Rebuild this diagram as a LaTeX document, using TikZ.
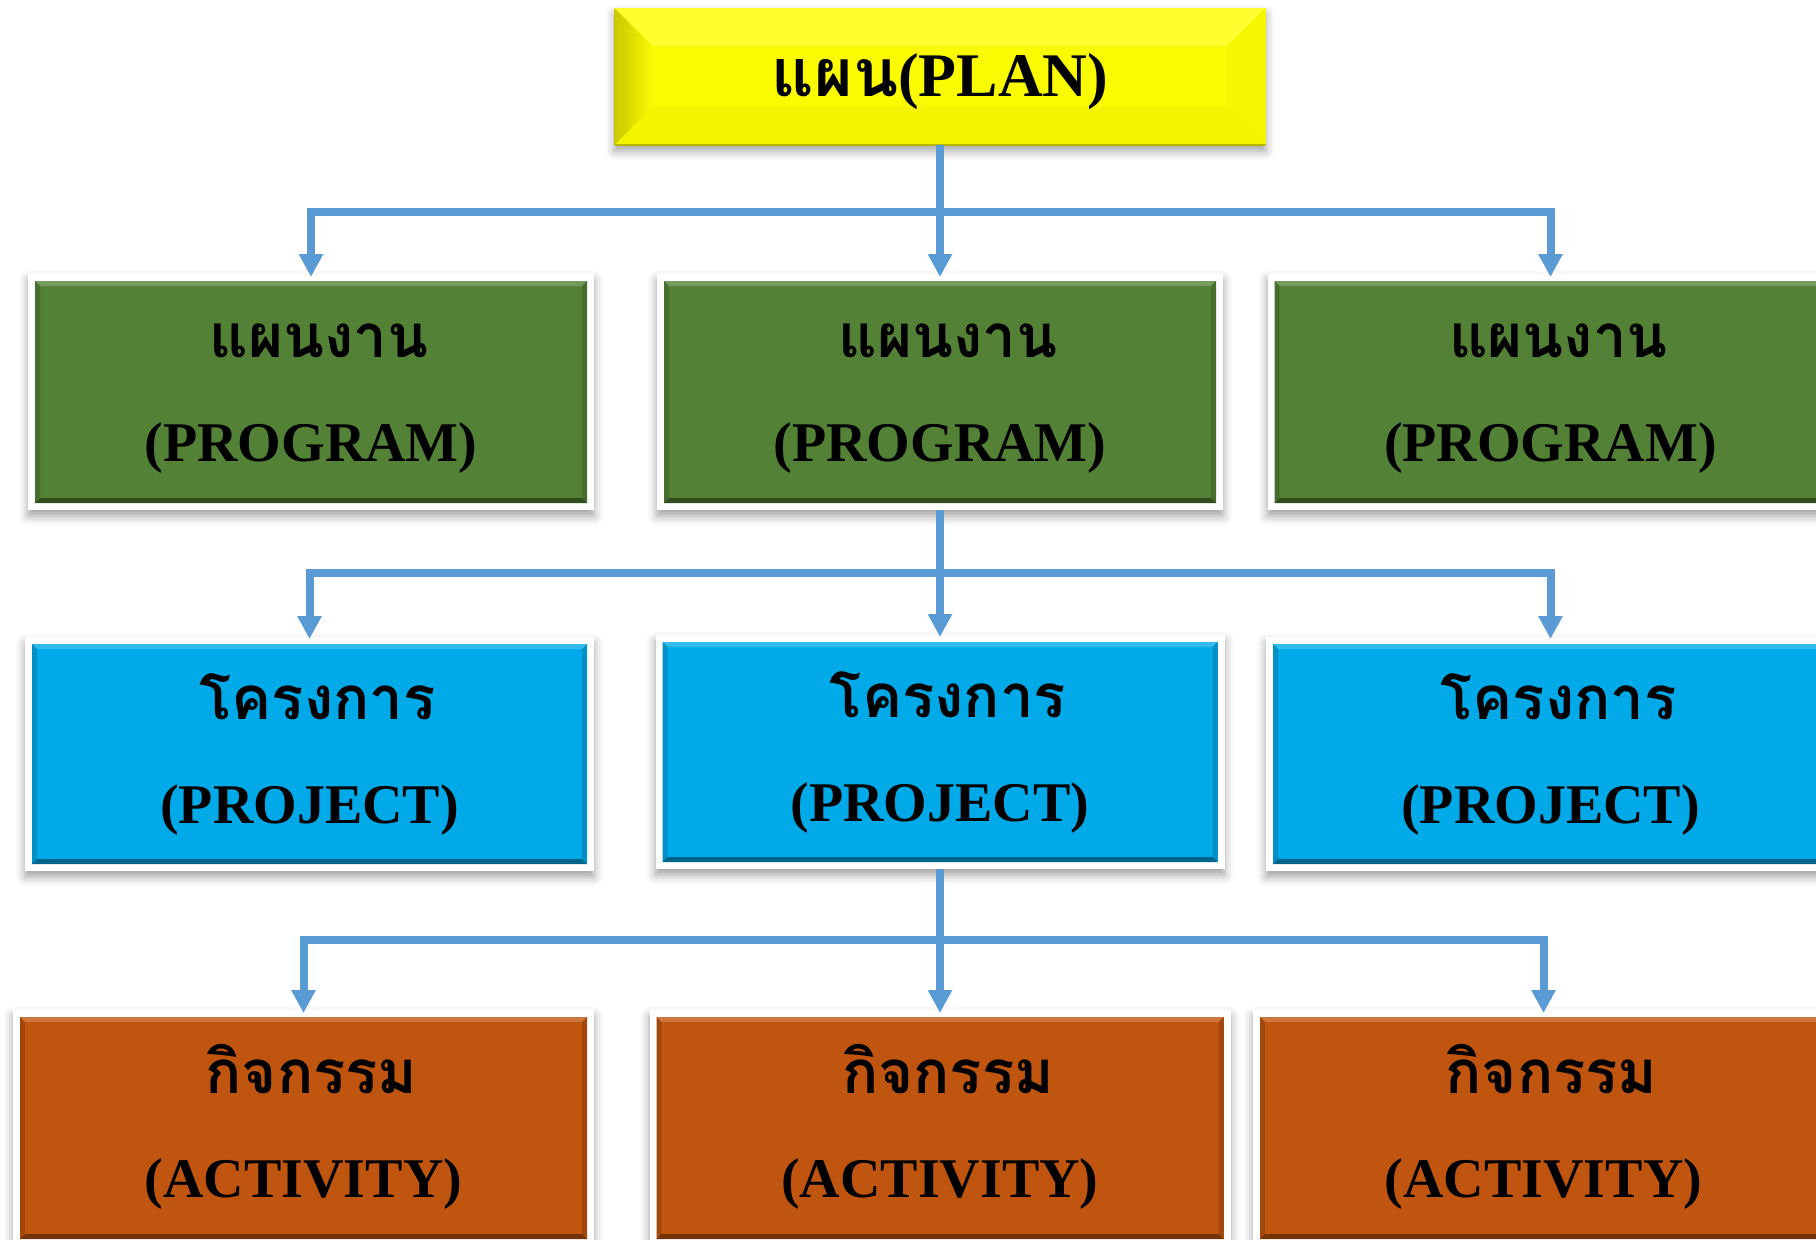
\documentclass[tikz,border=0pt]{standalone}
\usepackage{fontspec}
\setmainfont{Liberation Serif}
\newfontfamily\thaifont[Script=Thai]{Loma}
\usetikzlibrary{arrows.meta,shadows.blur}

% palette
\definecolor{linkblue}{HTML}{5B9BD5}
\definecolor{planY}{HTML}{FAFA00}
\definecolor{planYtop}{HTML}{FFFF30}
\definecolor{planYleft}{HTML}{E4E400}
\definecolor{planYright}{HTML}{F6F600}
\definecolor{planYbot}{HTML}{F4F400}
\definecolor{progG}{HTML}{538135}
\definecolor{projB}{HTML}{00A9E8}
\definecolor{actO}{HTML}{C0550F}

% bevelled fill inside a node: inset, bevel, base, top, left, right, bottom
\newcommand\bevelfill[7]{%
  \path ([shift={(#1,-#1)}]path picture bounding box.north west) coordinate (bvA)
        ([shift={(-#1,-#1)}]path picture bounding box.north east) coordinate (bvB)
        ([shift={(-#1,#1)}]path picture bounding box.south east) coordinate (bvC)
        ([shift={(#1,#1)}]path picture bounding box.south west) coordinate (bvD);
  \path ([shift={(#2,-#2)}]bvA) coordinate (bva)
        ([shift={(-#2,-#2)}]bvB) coordinate (bvb)
        ([shift={(-#2,#2)}]bvC) coordinate (bvc)
        ([shift={(#2,#2)}]bvD) coordinate (bvd);
  \path[#3] (bvA) rectangle (bvC);
  \path[#4] (bvA) -- (bvB) -- (bvb) -- (bva) -- cycle;
  \path[#5] (bvA) -- (bva) -- (bvd) -- (bvD) -- cycle;
  \path[#6] (bvB) -- (bvC) -- (bvc) -- (bvb) -- cycle;
  \path[#7] (bvD) -- (bvd) -- (bvc) -- (bvC) -- cycle;
}

\tikzset{
  softshadow/.style={blur shadow={shadow xshift=0pt, shadow yshift=-3pt,
      shadow blur radius=4.5pt, shadow opacity=38}},
  planbox/.style={rectangle, inner sep=0pt, outer sep=0pt,
      minimum width=325.5pt, minimum height=68.5pt, fill=planY, softshadow,
      path picture={\bevelfill{0pt}{19pt}{fill=planY}{fill=planYtop}
        {left color=planYleft!88!black, right color=planY}{fill=planYright}{fill=planYbot}
        \draw[planYleft!80!black, line width=0.8pt]
          (path picture bounding box.south west) -- (path picture bounding box.south east);}},
  tierbox/.style={rectangle, inner sep=0pt, outer sep=0pt, fill=white, softshadow,
      path picture={\bevelfill{3.5pt}{2.5pt}{fill=#1}{fill=#1!80!white}
        {fill=#1!85!black}{fill=#1!85!black}{fill=#1!60!black}}},
  progbox/.style={tierbox=progG, minimum width=283pt, minimum height=118pt},
  projbox/.style={tierbox=projB, minimum width=284.5pt, minimum height=117pt},
  actbox/.style={tierbox=actO, minimum width=290.5pt, minimum height=118pt},
  thaitxt/.style={anchor=base, inner sep=0pt,
      font=\thaifont\bfseries\fontsize{30pt}{30pt}\selectfont},
  latintxt/.style={anchor=base, inner sep=0pt,
      font=\bfseries\fontsize{28pt}{28pt}\selectfont},
  link/.style={draw=linkblue, line width=4pt},
  linkarrow/.style={link, -{Triangle[width=11.5pt,length=11.5pt]}},
}

% one box of a tier with its Thai and English lines
\newcommand\tier[6]{%
  \node[#4] (#1) at (#2,#3) {};
  \node[thaitxt] (#1-th) at ([xshift=4pt,yshift=17.5pt]#1.center) {#5};
  \node[latintxt] (#1-en) at ([yshift=-34.5pt]#1.center) {#6};
}

\begin{document}
\begin{tikzpicture}[x=0.5pt, y=-0.5pt]
  \useasboundingbox (0,0) rectangle (1816,1239);
  \clip (0,0) rectangle (1816,1239);

  \coordinate (hubA) at (940,212);
  \coordinate (hubB) at (940,573);
  \coordinate (hubC) at (940,940);

  % top box
  \node[planbox] (plan) at (940,76.5) {};
  \node[latintxt] (plan-txt) at ([yshift=-10pt]plan.center)
    {\fontsize{31pt}{31pt}\selectfont{\thaifont\fontsize{33pt}{33pt}\selectfont แผน}(PLAN)};

  % programs
  \tier{pg1}{311}{392}{progbox}{แผนงาน}{(PROGRAM)}
  \tier{pg2}{940}{392}{progbox}{แผนงาน}{(PROGRAM)}
  \tier{pg3}{1550.5}{392}{progbox}{แผนงาน}{(PROGRAM)}

  % projects
  \tier{pj1}{309.5}{754}{projbox}{โครงการ}{(PROJECT)}
  \tier{pj2}{940}{752}{projbox}{โครงการ}{(PROJECT)}
  \tier{pj3}{1550.5}{754}{projbox}{โครงการ}{(PROJECT)}

  % activities
  \tier{ac1}{303.5}{1128}{actbox}{กิจกรรม}{(ACTIVITY)}
  \tier{ac2}{940}{1128}{actbox}{กิจกรรม}{(ACTIVITY)}
  \tier{ac3}{1543.5}{1128}{actbox}{กิจกรรม}{(ACTIVITY)}

  % plan -> programs
  \draw[link] (plan.south) -- (hubA);
  \draw[linkarrow] (hubA) -| ([yshift=-1.5pt]pg1.north);
  \draw[linkarrow] (hubA) -- ([yshift=-1.5pt]pg2.north);
  \draw[linkarrow] (hubA) -| ([yshift=-1.5pt]pg3.north);

  % program -> projects
  \draw[link] (pg2.south) -- (hubB);
  \draw[linkarrow] (hubB) -| ([yshift=-1pt]pj1.north);
  \draw[linkarrow] (hubB) -- ([yshift=-1pt]pj2.north);
  \draw[linkarrow] (hubB) -| ([yshift=-1pt]pj3.north);

  % project -> activities
  \draw[link] (pj2.south) -- (hubC);
  \draw[linkarrow] (hubC) -| ([yshift=-1.5pt]ac1.north);
  \draw[linkarrow] (hubC) -- ([yshift=-1.5pt]ac2.north);
  \draw[linkarrow] (hubC) -| ([yshift=-1.5pt]ac3.north);
\end{tikzpicture}
\end{document}
